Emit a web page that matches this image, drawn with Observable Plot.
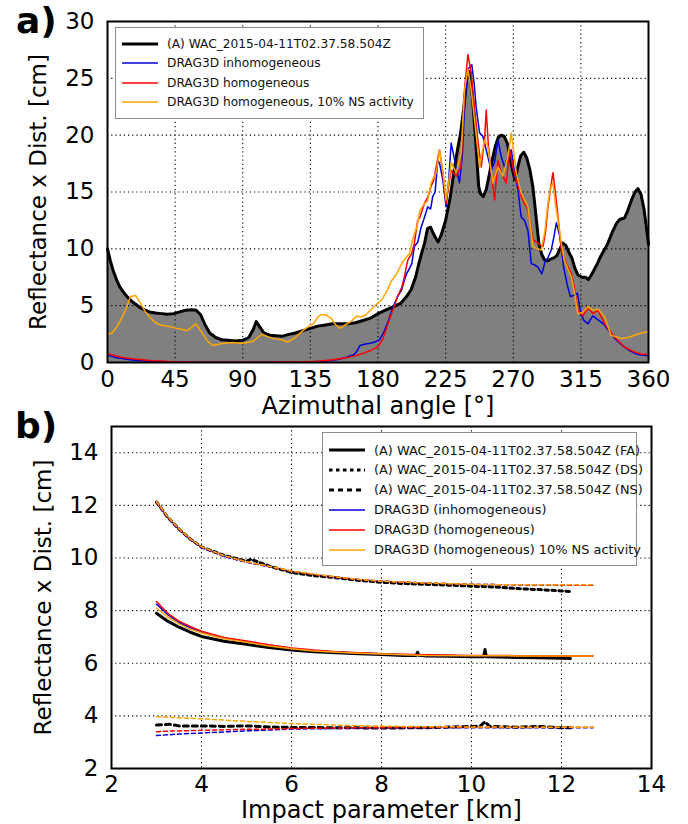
<!DOCTYPE html>
<html>
<head>
<meta charset="utf-8">
<script src="https://cdn.jsdelivr.net/npm/d3@7"></script>
<script src="https://cdn.jsdelivr.net/npm/@observablehq/plot@0.6"></script>
<style>
  body { margin: 0; background: white; }
  #wrap { position: relative; width: 688px; height: 824px; font-family: "DejaVu Sans", sans-serif; overflow: hidden; background: white; }
  #top, #bot { position: absolute; left: 0; }
  #top { top: 0; }
  #bot { top: 422px; }
  .panel { position: absolute; font-weight: bold; font-size: 36px; line-height: 1; }
  .legend { position: absolute; background: white; border: 1px solid #8c8c8c; box-sizing: border-box; }
  .row { position: absolute; left: 0; height: 20px; display: flex; align-items: center; white-space: nowrap; color: #111; }
  .row svg { margin-left: 6px; margin-right: 9px; }
</style>
</head>
<body>
<div id="wrap">
  <div id="top"></div>
  <div id="bot"></div>
  <div class="panel" style="left:16px; top:3px;">a)</div>
  <div class="panel" style="left:15px; top:408px;">b)</div>
  <div class="legend" id="legA" style="left:115px; top:27px; width:309px; height:92px;"></div>
  <div class="legend" id="legB" style="left:322px; top:432px; width:315px; height:134px;"></div>
</div>
<script>
// ---------- Panel a) : reflectance vs azimuthal angle ----------
const azTicks = [0, 45, 90, 135, 180, 225, 270, 315, 360];
const refTicksA = [0, 5, 10, 15, 20, 25, 30];

const wacAz = [0,2,4,6,8,10,13,16,19,22,25,28,32,36,40,44,48,52,56,59,62,65,68,72,76,80,85,90,94,97,99,101,104,108,112,116,120,125,130,135,140,145,150,155,160,165,170,175,180,185,190,195,199,202,205,207,209,211,213,215,217,219,220,222,225,228,231,233,235,237,239,241,243,245,246,247,248,250,252,254,256,258,260,262,264,266,267,269,271,272,273,275,277,279,281,283,284,286,287,289,291,293,295,297,299,301,303,305,307,309,311,313,316,318,320,322,324,326,328,331,333,336,339,341,344,346,348.7,351,353,355,357,358.5,360];
const wacVal = [10.0,8.9,8.0,7.3,6.7,6.3,5.8,5.4,5.1,4.8,4.6,4.45,4.35,4.3,4.25,4.3,4.45,4.6,4.65,4.6,4.2,3.3,2.6,2.2,2.0,1.95,1.9,1.95,2.2,2.9,3.6,3.2,2.6,2.4,2.35,2.3,2.45,2.6,2.8,3.0,3.2,3.3,3.4,3.4,3.4,3.5,3.7,3.9,4.3,4.6,4.9,5.2,5.8,6.4,7.5,8.6,9.6,10.5,11.8,11.9,11.3,10.8,10.6,11.2,12.5,14.5,17.2,18.8,20.2,22.3,24.9,25.6,23.1,19.5,17.5,15.5,14.9,14.6,15.2,16.5,17.8,19.0,19.8,20.0,19.9,19.3,18.7,17.2,16.1,16.5,17.2,18.2,18.5,18.0,17.0,15.5,14.3,11.8,10.5,9.5,9.0,8.95,9.1,9.2,9.4,10.0,10.5,10.3,9.7,9.2,8.3,7.7,7.5,7.5,7.3,7.7,8.2,8.7,9.3,10.0,10.5,11.5,12.3,12.6,12.7,13.3,14.3,15.0,15.3,14.8,13.5,12.0,10.4];

const inhomAz = [0,5,10,15,20,30,45,60,90,120,135,145,150,155,160,164,166,168,171,175,178,181,184,187,189,191,193,195.8,197,199,201,202.5,204.2,206.5,208.7,211,213.1,215,216.4,218,219.8,221,223.1,225.3,227,228.7,231,234.2,236,237.6,239.8,242.4,244,245.3,247.6,249.8,252,255.3,257.6,259.8,262,264.2,266.4,268.7,270.9,273.1,275.3,277.5,279.8,282,284,286.4,289,291.5,293,295.3,297,298.7,301,303.5,306,308,310,312.7,315,317,319.8,321,323,326,330,333,337,340,344,348,351,355,360];
const inhomVal = [0.65,0.45,0.35,0.25,0.18,0.1,0.05,0.03,0.02,0.03,0.06,0.12,0.2,0.3,0.5,0.7,1.0,1.5,1.6,1.7,1.8,2.0,2.7,3.7,4.5,5.2,5.8,6.4,7.0,7.8,8.3,8.7,10.2,10.6,11.9,12.8,13.7,13.5,14.6,15.0,17.8,17.5,16.1,13.7,16.0,19.3,17.8,15.8,18.0,22.5,25.8,26.2,24.5,22.5,20.2,19.9,18.7,16.9,17.6,19.6,18.1,17.2,18.1,18.7,16.7,15.2,12.8,12.5,11.6,8.7,8.6,8.4,7.8,9.0,9.2,9.9,11.0,12.3,11.1,8.4,6.8,5.8,5.9,6.1,4.3,3.7,3.4,3.7,4.1,3.8,3.4,2.9,2.2,1.8,1.35,1.0,0.8,0.65,0.6];

const homAz = [0,5,10,15,20,30,45,60,90,120,130,140,150,160,165,170,175,180,183,186.7,189,191,193,195.8,197.5,199.8,202.5,204.2,206.4,208,210.9,213,215.3,217,218.7,220.9,223.1,225.3,227,228.7,232,235.3,237.6,239.8,242,244.2,246.4,248.7,250.9,252,253.5,255.3,257.6,259.8,262,265.3,267.6,269.8,272,275.3,277.5,279.8,281.5,283.1,286.4,289.8,291.5,293.1,295,296.4,298,299.8,302,305.3,308.7,310.9,313.1,316.4,319.8,323.1,326.4,330.9,337.6,344.2,350.9,355,360];
const homVal = [0.8,0.6,0.45,0.35,0.28,0.15,0.06,0.03,0.02,0.04,0.07,0.12,0.25,0.45,0.6,0.8,1.05,1.4,2.0,3.4,4.3,5.0,5.8,6.6,7.5,9.0,9.6,10.5,12.5,12.8,14.0,14.5,15.5,16.0,17.2,18.7,16.7,14.0,15.5,16.9,16.4,17.2,24.0,27.1,25.5,22.5,19.6,17.2,19.6,22.2,19.0,16.7,14.3,17.8,16.7,15.8,18.7,17.2,16.1,14.6,14.0,13.4,12.0,10.8,10.5,10.2,11.5,13.7,15.5,16.7,15.0,12.8,9.9,8.7,7.8,6.4,4.6,4.1,4.8,4.3,4.6,3.4,2.2,1.35,0.9,0.75,0.7];

const nsAz = [0,3,6,8.7,12,15.3,18.7,22,25,28.7,32,35.3,40,46.4,50,53,56,58.7,62,66.4,69.8,77.3,83,88.7,93,97.3,100,103,106,110.7,116,120,125,130,134,137,140,142,145,148.7,152,155,158,162,166,168.7,172,175.8,178,182.5,186,189,192,195.8,199,201,203,206,208,211,213,215.3,218.7,220.9,223.1,225.3,227,228.7,232,235.3,237.6,239.8,242,244.2,247.6,250.9,253.1,256.4,259.8,263.1,266.4,268.7,272,275.3,277.5,279.8,283.1,286,288.7,291,293.1,295,296.4,298,299.8,302,304,308.7,311,313,316,319.8,323,326.4,330.9,335,342,346.4,353,358.7,360];
const nsVal = [2.5,2.6,3.1,3.7,4.6,5.8,5.9,5.2,4.5,3.9,3.5,3.3,3.2,3.0,2.9,2.8,3.1,3.4,2.8,1.9,1.5,1.7,1.75,1.7,1.75,1.9,2.2,2.5,2.3,2.1,2.0,1.8,2.2,2.8,3.2,3.4,4.0,4.2,4.2,3.9,3.3,3.0,3.3,3.6,4.1,4.0,4.2,4.7,5.0,5.5,6.3,7.2,7.7,8.7,9.3,9.6,10.8,12.0,13.4,14.0,14.2,15.8,16.7,18.7,16.9,14.3,15.8,17.6,16.7,18.4,24.0,25.8,24.0,21.4,17.2,19.6,19.0,15.8,17.2,16.4,18.1,20.2,16.7,14.9,14.3,13.7,10.2,10.0,9.9,11.5,14.0,15.5,15.8,14.0,12.5,10.5,9.0,7.5,6.0,4.3,4.4,4.9,4.6,4.7,4.0,2.4,2.1,2.2,2.5,2.7,2.6];

// ---------- Panel b) : reflectance vs impact parameter ----------
const kmTicks = [2, 4, 6, 8, 10, 12, 14];
const refTicksB = [2, 4, 6, 8, 10, 12, 14];

const faKm = [3.0,3.25,3.5,3.75,4.0,4.5,5.0,5.5,6.0,6.5,7.0,7.5,8.0,8.5,8.77,8.8,8.83,9.0,9.5,10.0,10.27,10.3,10.33,10.6,11.0,11.5,12.0,12.2];
const faVal = [7.9,7.6,7.37,7.18,7.02,6.84,6.72,6.6,6.5,6.44,6.4,6.36,6.33,6.3,6.3,6.42,6.3,6.28,6.27,6.25,6.25,6.52,6.25,6.24,6.22,6.21,6.19,6.18];
const dsKm = [3.0,3.25,3.5,3.75,4.0,4.5,5.0,5.1,5.5,6.0,6.5,7.0,7.5,8.0,8.5,9.0,9.5,10.0,10.5,11.0,11.5,12.0,12.2];
const dsVal = [12.13,11.55,11.1,10.72,10.42,10.1,9.88,9.95,9.7,9.45,9.33,9.25,9.15,9.08,9.03,9.0,8.97,8.93,8.9,8.84,8.8,8.75,8.73];
const nsObsKm = [3.0,3.3,3.5,4.0,4.5,5.0,5.5,6.0,7.0,8.0,9.0,10.0,10.2,10.3,10.4,11.0,11.5,12.0,12.2];
const nsObsVal = [3.65,3.68,3.62,3.62,3.6,3.62,3.58,3.56,3.55,3.54,3.55,3.6,3.62,3.78,3.6,3.57,3.6,3.55,3.55];

const modelKm = [3.0,3.25,3.5,3.75,4.0,4.5,5.0,5.5,6.0,6.5,7.0,7.5,8.0,9.0,10.0,11.0,12.0,12.7];
const inhomFA = [8.25,7.85,7.55,7.35,7.18,6.95,6.82,6.68,6.56,6.48,6.42,6.38,6.34,6.3,6.29,6.28,6.28,6.28];
const homFA   = [8.35,7.9,7.6,7.4,7.22,6.98,6.85,6.7,6.58,6.5,6.44,6.4,6.36,6.32,6.3,6.29,6.28,6.28];
const nsFA    = [8.1,7.75,7.5,7.3,7.15,6.93,6.8,6.66,6.55,6.47,6.42,6.38,6.35,6.3,6.29,6.28,6.28,6.28];
const inhomDS = [12.1,11.53,11.08,10.7,10.4,10.06,9.84,9.67,9.5,9.38,9.27,9.18,9.12,9.05,9.0,8.98,8.97,8.97];
const homDS   = [12.13,11.55,11.1,10.72,10.42,10.08,9.85,9.68,9.5,9.38,9.27,9.18,9.12,9.05,9.0,8.98,8.97,8.97];
const nsDS    = [12.15,11.57,11.12,10.73,10.43,10.09,9.86,9.69,9.51,9.39,9.28,9.19,9.12,9.05,9.0,8.98,8.98,8.98];
const inhomNS = [3.25,3.28,3.31,3.33,3.35,3.39,3.43,3.46,3.5,3.51,3.52,3.53,3.54,3.55,3.55,3.55,3.55,3.55];
const homNS   = [3.4,3.42,3.43,3.44,3.45,3.47,3.49,3.5,3.52,3.53,3.54,3.55,3.55,3.56,3.57,3.57,3.57,3.57];
const nsNS    = [3.97,3.95,3.93,3.91,3.89,3.84,3.79,3.75,3.71,3.68,3.65,3.63,3.61,3.59,3.58,3.57,3.57,3.57];

const legendA = [
  {label: "(A) WAC_2015-04-11T02.37.58.504Z", color: "black", width: 3, dash: null},
  {label: "DRAG3D inhomogeneous", color: "#0000dd", width: 1.5, dash: null},
  {label: "DRAG3D homogeneous", color: "#ff0000", width: 1.5, dash: null},
  {label: "DRAG3D homogeneous, 10% NS activity", color: "#ffa500", width: 1.5, dash: null}
];
const legendB = [
  {label: "(A) WAC_2015-04-11T02.37.58.504Z (FA)", color: "black", width: 3, dash: null},
  {label: "(A) WAC_2015-04-11T02.37.58.504Z (DS)", color: "black", width: 3, dash: "3.5,3.5"},
  {label: "(A) WAC_2015-04-11T02.37.58.504Z (NS)", color: "black", width: 3, dash: "5,4"},
  {label: "DRAG3D (inhomogeneous)", color: "#0000dd", width: 1.5, dash: null},
  {label: "DRAG3D (homogeneous)", color: "#ff0000", width: 1.5, dash: null},
  {label: "DRAG3D (homogeneous) 10% NS activity", color: "#ffa500", width: 1.5, dash: null}
];

const pairs = (xs, ys) => xs.map((x, i) => ({x, y: ys[i]}));
const BLUE = "#0000dd", RED = "#ff0000", ORANGE = "#ffa500";
const gridStyle = {stroke: "black", strokeOpacity: 1, strokeWidth: 1.1, strokeDasharray: "1.2,3"};
const font = {fontFamily: "DejaVu Sans", fontSize: "23px", color: "black", background: "transparent", overflow: "visible"};

const plotA = Plot.plot({
  width: 688, height: 422,
  marginLeft: 107, marginRight: 40, marginTop: 21, marginBottom: 60,
  style: font,
  x: {domain: [0, 360], label: null},
  y: {domain: [0, 30], label: null},
  marks: [
    Plot.areaY(pairs(wacAz, wacVal), {x: "x", y: "y", fill: "#808080"}),
    Plot.gridX(azTicks.slice(1, -1), gridStyle),
    Plot.gridY(refTicksA.slice(1, -1), gridStyle),
    Plot.line(pairs(wacAz, wacVal), {x: "x", y: "y", stroke: "black", strokeWidth: 3}),
    Plot.line(pairs(inhomAz, inhomVal), {x: "x", y: "y", stroke: BLUE, strokeWidth: 1.5}),
    Plot.line(pairs(homAz, homVal), {x: "x", y: "y", stroke: RED, strokeWidth: 1.5}),
    Plot.line(pairs(nsAz, nsVal), {x: "x", y: "y", stroke: ORANGE, strokeWidth: 1.5}),
    Plot.axisX(azTicks, {tickSize: 0, tickPadding: 8, fontSize: 23}),
    Plot.axisY(refTicksA, {tickSize: 0, tickPadding: 13, fontSize: 23}),
    Plot.frame({stroke: "black", strokeWidth: 2}),
    Plot.text(["Azimuthal angle [°]"], {frameAnchor: "bottom", dy: 44, lineAnchor: "middle", fontSize: 24}),
    Plot.text(["Reflectance x Dist. [cm]"], {frameAnchor: "left", dx: -69, rotate: -90, textAnchor: "middle", lineAnchor: "middle", fontSize: 23})
  ]
});
document.getElementById("top").append(plotA);

const plotB = Plot.plot({
  width: 688, height: 402,
  marginLeft: 111, marginRight: 37, marginTop: 4, marginBottom: 56,
  style: font,
  x: {domain: [2, 14], label: null},
  y: {domain: [2, 15], label: null},
  marks: [
    Plot.gridX(kmTicks.slice(1, -1), gridStyle),
    Plot.gridY(refTicksB.slice(1), gridStyle),
    Plot.line(pairs(faKm, faVal), {x: "x", y: "y", stroke: "black", strokeWidth: 3}),
    Plot.line(pairs(dsKm, dsVal), {x: "x", y: "y", stroke: "black", strokeWidth: 3, strokeDasharray: "3.5,3.5"}),
    Plot.line(pairs(nsObsKm, nsObsVal), {x: "x", y: "y", stroke: "black", strokeWidth: 3, strokeDasharray: "5,4"}),
    Plot.line(pairs(modelKm, inhomFA), {x: "x", y: "y", stroke: BLUE, strokeWidth: 1.5}),
    Plot.line(pairs(modelKm, homFA), {x: "x", y: "y", stroke: RED, strokeWidth: 1.5}),
    Plot.line(pairs(modelKm, nsFA), {x: "x", y: "y", stroke: ORANGE, strokeWidth: 1.5}),
    Plot.line(pairs(modelKm, inhomDS), {x: "x", y: "y", stroke: BLUE, strokeWidth: 1.5, strokeDasharray: "4,3"}),
    Plot.line(pairs(modelKm, homDS), {x: "x", y: "y", stroke: RED, strokeWidth: 1.5, strokeDasharray: "4,3"}),
    Plot.line(pairs(modelKm, nsDS), {x: "x", y: "y", stroke: ORANGE, strokeWidth: 1.5, strokeDasharray: "4,3"}),
    Plot.line(pairs(modelKm, inhomNS), {x: "x", y: "y", stroke: BLUE, strokeWidth: 1.5, strokeDasharray: "4,3"}),
    Plot.line(pairs(modelKm, homNS), {x: "x", y: "y", stroke: RED, strokeWidth: 1.5, strokeDasharray: "4,3"}),
    Plot.line(pairs(modelKm, nsNS), {x: "x", y: "y", stroke: ORANGE, strokeWidth: 1.5, strokeDasharray: "4,3"}),
    Plot.axisX(kmTicks, {tickSize: 0, tickPadding: 7, fontSize: 23}),
    Plot.axisY(refTicksB, {tickSize: 0, tickPadding: 13, fontSize: 23}),
    Plot.frame({stroke: "black", strokeWidth: 2}),
    Plot.text(["Impact parameter [km]"], {frameAnchor: "bottom", dy: 42, lineAnchor: "middle", fontSize: 24}),
    Plot.text(["Reflectance x Dist. [cm]"], {frameAnchor: "left", dx: -68, rotate: -90, textAnchor: "middle", lineAnchor: "middle", fontSize: 23})
  ]
});
document.getElementById("bot").append(plotB);

function buildLegend(id, items, firstCenter, step, fontSize) {
  const box = document.getElementById(id);
  items.forEach((it, i) => {
    const row = document.createElement("div");
    row.className = "row";
    row.style.top = (firstCenter + i * step - 10) + "px";
    row.style.fontSize = fontSize + "px";
    const ns = "http://www.w3.org/2000/svg";
    const svg = document.createElementNS(ns, "svg");
    svg.setAttribute("width", 36); svg.setAttribute("height", 10);
    const ln = document.createElementNS(ns, "line");
    ln.setAttribute("x1", 0); ln.setAttribute("x2", 36);
    ln.setAttribute("y1", 5); ln.setAttribute("y2", 5);
    ln.setAttribute("stroke", it.color);
    ln.setAttribute("stroke-width", it.width);
    if (it.dash) ln.setAttribute("stroke-dasharray", it.dash);
    svg.append(ln);
    const span = document.createElement("span");
    span.textContent = it.label;
    row.append(svg, span);
    box.append(row);
  });
}
buildLegend("legA", legendA, 16, 19.4, 12.2);
buildLegend("legB", legendB, 17, 19.9, 12.9);
</script>
</body>
</html>
